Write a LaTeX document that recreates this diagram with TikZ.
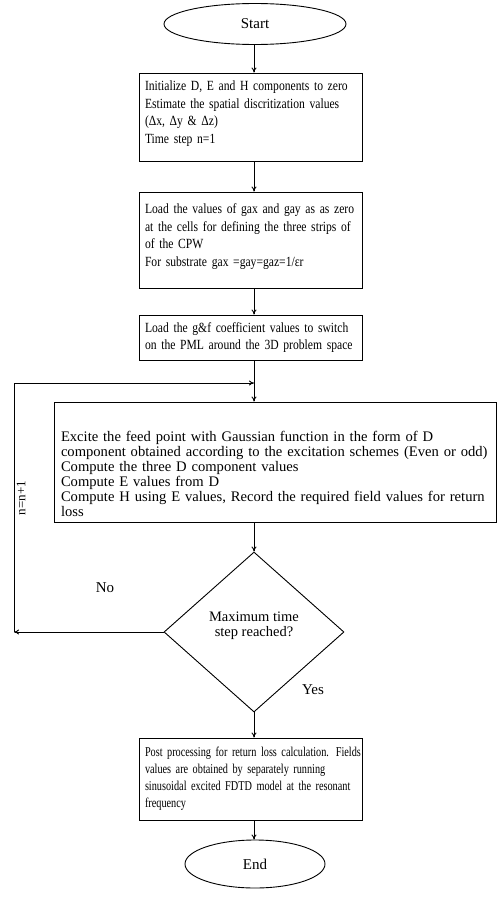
\documentclass[tikz,border=0pt]{standalone}
\usepackage{fontspec}
\setmainfont{Liberation Serif}
\newfontfamily\narrowserif[FakeStretch=0.83]{Liberation Serif}
\newfontfamily\postserif[FakeStretch=0.76]{Liberation Serif}
\usetikzlibrary{shapes.geometric,arrows.meta}
\begin{document}
\begin{tikzpicture}[x=1pt,y=1pt,
  every path/.style={line width=0.9pt},
  arr/.style={-{To[length=5pt,width=5pt]}},
  term/.style={draw, ellipse, inner sep=0pt, font=\fontsize{15}{17}\selectfont},
  proc/.style={draw, rectangle, inner xsep=6pt, inner ysep=0pt, align=left, text width=211pt, font=\narrowserif\fontsize{14}{17.5}\selectfont},
  postbox/.style={proc, font=\postserif\fontsize{13.5}{17}\selectfont},
  bigbox/.style={draw, rectangle, inner xsep=7pt, inner ysep=0pt, align=left, text width=428pt, font=\fontsize{14.6}{15}\selectfont},
  decision/.style={draw, diamond, inner sep=0pt, minimum width=180pt, minimum height=160pt, align=center, font=\fontsize{14.5}{14.5}\selectfont},
  lbl/.style={font=\fontsize{15}{17}\selectfont, inner sep=0pt}
]
\useasboundingbox (0,0) rectangle (497,-907);
\node[term, minimum width=182pt, minimum height=41pt] (start) at (255,-24) {Start};
\node[proc, minimum height=88pt] (b1) at (250.5,-117) {\mbox{Initialize D, E and H components to zero}\\\mbox{Estimate the spatial discritization values}\\(Δx, Δy \& Δz)\\Time step n=1\rule[-10pt]{0pt}{10pt}};
\node[proc, minimum height=96pt] (b2) at (250.5,-240) {\mbox{Load the values of gax and gay as as zero}\\\mbox{at the cells for defining the three strips of}\\of the CPW\\\mbox{For substrate gax =gay=gaz=1/εr}\rule[-10pt]{0pt}{10pt}};
\node[proc, minimum height=45pt] (b3) at (250.5,-337.5) {\mbox{Load the g\&f coefficient values to switch}\\\mbox{on the PML around the 3D problem space}};
\coordinate (J) at (254,-383);
\node[bigbox, minimum height=120pt] (b4) at (275,-462) {\rule{0pt}{34pt}Excite the feed point with Gaussian function in the form of D\\component obtained according to the excitation schemes (Even or odd)\\Compute the three D component values\\Compute E values from D\\Compute H using E values, Record the required field values for return\\loss};
\node[decision] (d) at (254,-632) {Maximum time\\step reached?\rule[-16pt]{0pt}{16pt}};
\node[postbox, minimum height=82pt] (b5) at (250.5,-779) {\makebox[211pt][s]{Post processing for return loss calculation. Fields}\\\makebox[211pt][s]{values are obtained by separately running}\\\makebox[211pt][s]{sinusoidal excited FDTD model at the resonant}\\frequency};
\node[term, minimum width=140pt, minimum height=48pt] (end) at (255,-864) {End};
\coordinate (L1) at (14,-632);
\coordinate (L2) at (14,-383);
\draw[arr] (start.south -| J) -- (b1.north -| J);
\draw[arr] (b1.south -| J) -- (b2.north -| J);
\draw[arr] (b2.south -| J) -- (b3.north -| J);
\draw[arr] (b3.south -| J) -- (b4.north -| J);
\draw[arr] (b4.south -| d) -- (d.north);
\draw[arr] (d.south) -- (b5.north -| d);
\draw[arr] (b5.south -| d) -- (end.north -| d);
\draw[arr] (d.west) -- (L1);
\draw[arr] (L1) -- (L2) -- (J);
\node[lbl] (no) at (105,-588) {No};
\node[lbl] (yes) at (313,-690) {Yes};
\node[lbl, rotate=90, font=\fontsize{13}{15}\selectfont] (nn) at (21,-498) {n=n+1};
\end{tikzpicture}
\end{document}
